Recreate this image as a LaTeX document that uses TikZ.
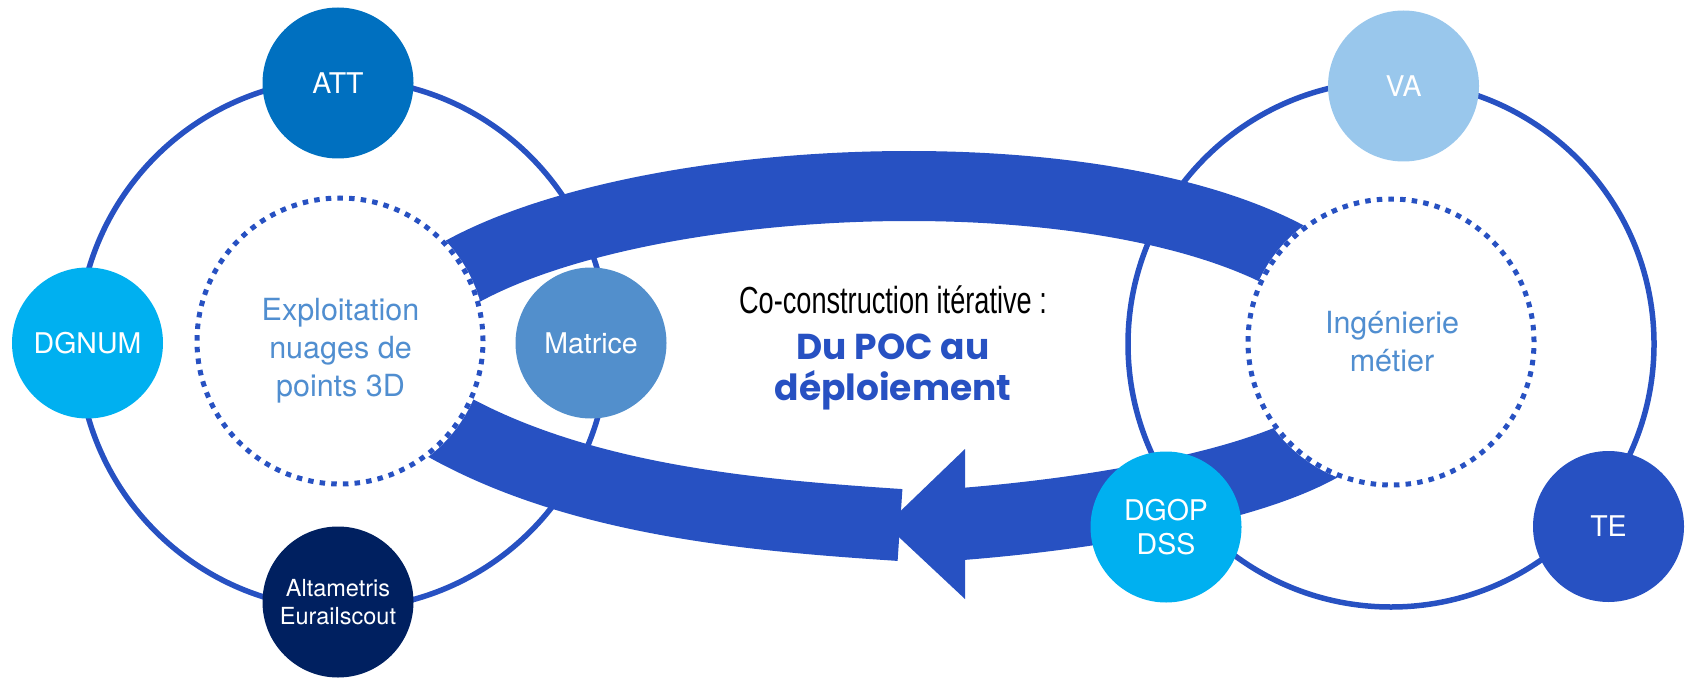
\documentclass[tikz,border=0pt]{standalone}
\usepackage{fontspec}
\setmainfont{TeX Gyre Heros}
\newfontfamily\popfont{Poppins}
\newfontfamily\condfont[FakeStretch=0.72]{Liberation Sans}
\definecolor{band}{RGB}{39,81,194}
\definecolor{attc}{RGB}{0,112,192}
\definecolor{lightb}{RGB}{0,176,240}
\definecolor{matc}{RGB}{82,143,204}
\definecolor{darkb}{RGB}{0,32,96}
\definecolor{vac}{RGB}{153,199,236}
\definecolor{txtb}{RGB}{80,142,208}
\begin{document}
\begin{tikzpicture}[x=1pt,y=-1pt,
  ringc/.style={circle, inner sep=0pt, draw=band, line width=5.5pt},
  bandline/.style={draw=band, line width=#1, line cap=butt},
  innerfill/.style={circle, fill=white, minimum size=291pt, inner sep=0pt},
  dotring/.style={draw=band, line width=5pt, dash pattern=on 5.5pt off 6.17pt},
  bubble/.style={circle, minimum size=151pt, inner sep=0pt, text=white, align=center, font=\fontsize{28.5}{34}\selectfont},
  innerlabel/.style={text=txtb, align=center, font=\fontsize{30.5}{38}\selectfont}]
\useasboundingbox (0,0) rectangle (1685,679);
% outer rings
\node[ringc, minimum size=530pt] (ringL) at (343,344) {};
\node[ringc, minimum size=526pt] (ringR) at (1391,344) {};
% band coordinates
\coordinate (u0) at (430,292);
\coordinate (u1) at (600,165);
\coordinate (u2) at (1150,140);
\coordinate (u3) at (1330,284);
\coordinate (l0) at (420,410);
\coordinate (l1) at (560,500);
\coordinate (l2) at (750,515);
\coordinate (l3) at (900,525);
\coordinate (r0) at (1330,440);
\coordinate (r1) at (1260,485);
\coordinate (r2) at (1100,513);
\coordinate (r3) at (962,524);
\coordinate (ah1) at (965,449);
\coordinate (ah2) at (965,599);
\coordinate (ahtip) at (886,525);
% bands
\draw[bandline=70pt] (u0) .. controls (u1) and (u2) .. (u3);
\draw[bandline=72pt] (l0) .. controls (l1) and (l2) .. (l3);
\draw[bandline=72pt] (r0) .. controls (r1) and (r2) .. (r3);
\fill[band] (ah1) -- (ahtip) -- (ah2) -- cycle;
% inner dotted circles
\node[innerfill] (inL) at (340,341) {};
\node[innerfill] (inR) at (1391,342) {};
\draw[dotring] (inL.center) circle[radius=143pt];
\draw[dotring] (inR.center) circle[radius=143pt];
\node[innerlabel] (explt) at (340.5,350.7) {Exploitation\\nuages de\\points 3D};
\node[innerlabel] (ingt) at (1392,342) {Ingénierie\\métier};
% central text
\node[anchor=base, inner sep=0pt, font=\condfont\fontsize{37.7}{40}\selectfont] (cocon) at (893,313) {Co-construction itérative :};
\node[anchor=base, inner sep=0pt, text=band, font=\popfont\bfseries\fontsize{36}{40}\selectfont] (poc1) at (893,359) {Du POC au};
\node[anchor=base, inner sep=0pt, text=band, font=\popfont\bfseries\fontsize{36}{40}\selectfont] (poc2) at (893,400) {déploiement};
% bubbles
\node[bubble, fill=attc] (att) at (338,83) {ATT};
\node[bubble, fill=lightb] (dgnum) at (87.5,343) {DGNUM};
\node[bubble, fill=matc] (matrice) at (591,343) {Matrice};
\node[bubble, fill=darkb, font=\fontsize{23.5}{28}\selectfont] (alta) at (338,602) {Altametris\\Eurailscout};
\node[bubble, fill=vac] (va) at (1403.5,86) {VA};
\node[bubble, fill=band] (te) at (1608.5,526.5) {TE};
\node[bubble, fill=lightb] (dgop) at (1166,527) {DGOP\\DSS};
\end{tikzpicture}
\end{document}
